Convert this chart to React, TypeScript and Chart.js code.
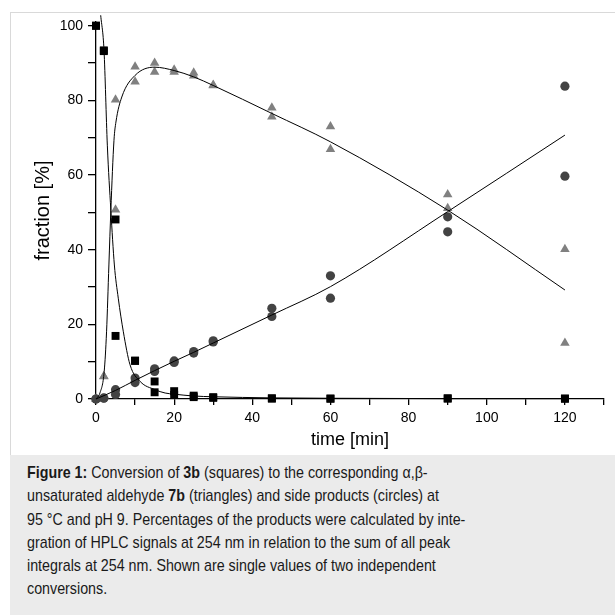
import React, { useEffect, useRef } from 'react';
import { Chart, registerables } from 'chart.js';

Chart.register(...registerables);

// sampling times [min]
const times = [0, 2, 5, 10, 15, 20, 25, 30, 45, 60, 90, 120];

// 3b (squares), two independent conversions
const squaresRunA = [100, 93.4, 48.1, 10.3, 4.7, 2.1, 0.9, 0.5, 0.2, 0.1, 0.2, 0.1];
const squaresRunB = [100, 93.2, 16.9, 10.2, 1.8, 1.1, 0.5, 0.3, 0.1, 0.1, 0.1, 0.1];

// 7b (triangles)
const trianglesRunA = [0, 6.1, 80.2, 89.0, 90.0, 88.2, 87.4, 84.1, 78.0, 73.0, 54.8, 40.1];
const trianglesRunB = [0, 6.0, 50.7, 85.0, 87.6, 87.6, 86.6, 84.0, 75.6, 66.9, 51.1, 15.0];

// side products (circles)
const circlesRunA = [0, 0.3, 2.5, 5.6, 8.1, 10.2, 12.7, 15.6, 24.3, 33.0, 48.8, 83.8];
const circlesRunB = [0, 0.2, 1.2, 4.4, 7.4, 9.8, 12.3, 15.3, 22.1, 27.0, 44.8, 59.7];

// fitted curves
const squareFitT = [1.2, 2.05, 2.9, 3.8, 4.7, 5.7, 7, 8.7, 11.3, 15.1, 17.7, 20, 25, 30, 45, 60, 90, 120];
const squareFitY = [102.8, 93.4, 68, 50.6, 35.9, 27, 18, 9.2, 4.7, 2.5, 1.6, 1.3, 0.8, 0.6, 0.3, 0.2, 0.1, 0.1];

const triangleFitT = [0, 1, 2.1, 2.7, 3.3, 3.8, 4.6, 5.1, 6.6, 10, 15, 20, 25, 30, 45, 60, 90, 120];
const triangleFitY = [0, 1.6, 7.4, 18, 35.9, 50.6, 69.3, 74.2, 80.9, 86.7, 88.9, 88, 86.3, 84, 76.5, 68.9, 50.6, 29.2];

const circleFitT = [0, 5, 10, 15, 20, 25, 30, 45, 60, 90, 120];
const circleFitY = [0, 2.3, 5, 7.6, 10.1, 12.5, 15, 22.5, 30.1, 50.2, 70.7];

const xTitle = 'time [min]';
const yTitle = 'fraction [%]';

const FONT = '"Liberation Sans", Arial, Helvetica, sans-serif';

const pts = (xs: number[], ys: number[]) => xs.map((x, i) => ({ x, y: ys[i] }));
const both = (a: number[], b: number[]) => [...pts(times, a), ...pts(times, b)];

export default function App() {
  const ref = useRef<HTMLCanvasElement | null>(null);

  useEffect(() => {
    if (!ref.current) return;
    const lineDs = (xs: number[], ys: number[]) => ({
      type: 'line' as const,
      data: pts(xs, ys),
      showLine: true,
      borderColor: '#000',
      borderWidth: 1,
      pointRadius: 0,
      fill: false,
      cubicInterpolationMode: 'monotone' as const,
      clip: false as any,
    });
    const chart = new Chart(ref.current, {
      type: 'scatter',
      data: {
        datasets: [
          lineDs(squareFitT, squareFitY),
          lineDs(triangleFitT, triangleFitY),
          lineDs(circleFitT, circleFitY),
          {
            data: both(squaresRunA, squaresRunB),
            pointStyle: 'rect',
            pointRadius: 5.6,
            pointBackgroundColor: '#000',
            pointBorderWidth: 0,
            borderWidth: 0,
            clip: false as any,
          },
          {
            data: both(circlesRunA, circlesRunB),
            pointStyle: 'circle',
            pointRadius: 4.6,
            pointBackgroundColor: '#434343',
            pointBorderWidth: 0,
            borderWidth: 0,
            clip: false as any,
          },
          {
            data: both(trianglesRunA, trianglesRunB),
            pointStyle: 'triangle',
            pointRadius: 5.5,
            pointBackgroundColor: '#808080',
            pointBorderWidth: 0,
            borderWidth: 0,
            clip: false as any,
          },
        ] as any,
      },
      options: {
        responsive: false,
        animation: false,
        events: [],
        layout: { padding: { top: 9, right: 11, left: 0, bottom: 0 } },
        plugins: { legend: { display: false }, tooltip: { enabled: false } },
        scales: {
          x: {
            type: 'linear',
            position: 'bottom',
            min: 0,
            max: 130,
            afterFit: (s: any) => { s.height = 56; s.paddingLeft = 0; s.paddingRight = 0; },
            ticks: {
              stepSize: 10,
              autoSkip: false,
              maxRotation: 0,
              includeBounds: false,
              padding: 5,
              color: '#000',
              font: { family: FONT, size: 14 },
              callback: (v: any) => (Number(v) % 20 === 0 ? String(v) : ''),
            },
            grid: { display: true, drawOnChartArea: false, drawTicks: true, tickLength: 6, color: '#000', lineWidth: 1.3 },
            border: { display: true, color: '#000', width: 1.3 },
            title: { display: true, text: xTitle, color: '#000', font: { family: FONT, size: 18 }, padding: { top: 0, bottom: 4 } },
          },
          y: {
            type: 'linear',
            position: 'left',
            min: 0,
            max: 101,
            afterFit: (s: any) => { s.width = 85; s.paddingTop = 0; s.paddingBottom = 0; },
            ticks: {
              stepSize: 10,
              autoSkip: false,
              includeBounds: false,
              padding: 5,
              color: '#000',
              font: { family: FONT, size: 14 },
              callback: (v: any) => (Number(v) % 20 === 0 ? String(v) : ''),
            },
            grid: { display: true, drawOnChartArea: false, drawTicks: true, tickLength: 8, color: '#000', lineWidth: 1.3 },
            border: { display: true, color: '#000', width: 1.3 },
            title: { display: true, text: yTitle, color: '#000', font: { family: FONT, size: 20 }, padding: { top: 20, bottom: 0 } },
          },
        },
      } as any,
    });
    return () => chart.destroy();
  }, []);

  return (
    <div style={{ position: 'absolute', left: 10, top: 12, width: 605, height: 603, overflow: 'hidden' }}>
      <div
        style={{
          width: 605,
          height: 443,
          boxSizing: 'border-box',
          borderTop: '1px solid #d9d9d9',
          borderLeft: '1px solid #d9d9d9',
          background: '#fff',
        }}
      >
        <canvas ref={ref} width={604} height={442} style={{ display: 'block' }} />
      </div>
      <div
        style={{
          width: 605,
          height: 160,
          boxSizing: 'border-box',
          background: '#ebebeb',
          padding: '6px 0 0 17px',
          overflow: 'hidden',
        }}
      >
        <div
          style={{
            fontFamily: FONT,
            fontSize: 17,
            lineHeight: '23.3px',
            color: '#1a1a1a',
            whiteSpace: 'nowrap',
            transform: 'scaleX(0.84)',
            transformOrigin: 'left top',
          }}
        >
          <b>Figure 1:</b> Conversion of <b>3b</b> (squares) to the corresponding α,β-<br />
          unsaturated aldehyde <b>7b</b> (triangles) and side products (circles) at<br />
          95 °C and pH 9. Percentages of the products were calculated by inte-<br />
          gration of HPLC signals at 254 nm in relation to the sum of all peak<br />
          integrals at 254 nm. Shown are single values of two independent<br />
          conversions.
        </div>
      </div>
    </div>
  );
}
